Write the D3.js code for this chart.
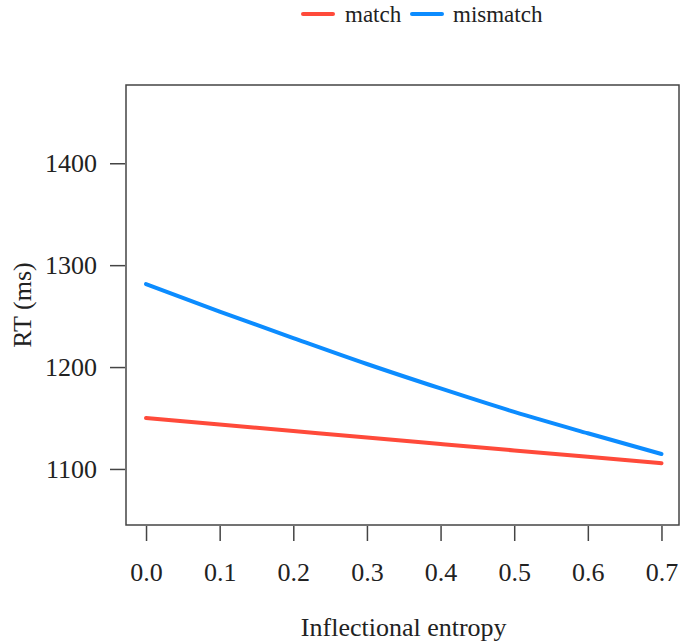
<!DOCTYPE html>
<html>
<head>
<meta charset="utf-8">
<script src="https://cdn.jsdelivr.net/npm/d3@7"></script>
<style>
  html, body { margin: 0; padding: 0; background: #fff; }
  svg { display: block; }
  text { font-family: "Liberation Serif", "Times New Roman", serif; fill: #222; }
</style>
</head>
<body>
<svg id="chart" width="681" height="643"></svg>
<script>
// Predicted RT by inflectional entropy, per condition
const entropy = [0.0, 0.1, 0.2, 0.3, 0.4, 0.5, 0.6, 0.7];
const matchRT = [1150, 1143.6, 1137.2, 1130.8, 1124.5, 1118.2, 1111.9, 1105.6];
const mismatchRT = [1281.5, 1254.5, 1228.5, 1203, 1179, 1156, 1135, 1114.7];
const seriesNames = ["match", "mismatch"];
const seriesColors = ["#ff4a3a", "#0c8cff"];
const xTicks = [0.0, 0.1, 0.2, 0.3, 0.4, 0.5, 0.6, 0.7];
const yTicks = [1100, 1200, 1300, 1400];

const svg = d3.select("#chart");
const box = { left: 126, right: 679, top: 85, bottom: 525 };

const x = d3.scaleLinear().domain([-0.0272, 0.7238]).range([box.left, box.right]);
const y = d3.scaleLinear().domain([1045, 1476.8]).range([box.bottom, box.top]);

// Plot frame
svg.append("rect")
  .attr("x", box.left).attr("y", box.top)
  .attr("width", box.right - box.left).attr("height", box.bottom - box.top)
  .attr("fill", "none").attr("stroke", "#444").attr("stroke-width", 1.5);

// Axes
const xAxis = d3.axisBottom(x).tickValues(xTicks).tickFormat(d3.format(".1f"))
  .tickSize(15).tickPadding(22);
const gx = svg.append("g").attr("transform", `translate(0,${box.bottom + 1})`).call(xAxis);
gx.select(".domain").remove();
gx.selectAll(".tick line").attr("stroke", "#444").attr("stroke-width", 1.5);
gx.selectAll(".tick text").attr("font-size", 26).attr("fill", "#222")
  .style("font-family", "'Liberation Serif', serif");

const yAxis = d3.axisLeft(y).tickValues(yTicks).tickFormat(d3.format("d"))
  .tickSize(15).tickPadding(13);
const gy = svg.append("g").attr("transform", `translate(${box.left - 1},0)`).call(yAxis);
gy.select(".domain").remove();
gy.selectAll(".tick line").attr("stroke", "#444").attr("stroke-width", 1.5);
gy.selectAll(".tick text").attr("font-size", 26).attr("fill", "#222")
  .style("font-family", "'Liberation Serif', serif");

// Axis titles
svg.append("text")
  .attr("x", (x(0) + x(0.7)) / 2).attr("y", 636)
  .attr("text-anchor", "middle").attr("font-size", 26)
  .text("Inflectional entropy");

svg.append("text")
  .attr("transform", "translate(31,305) rotate(-90)")
  .attr("text-anchor", "middle").attr("font-size", 26)
  .text("RT (ms)");

// Lines
const line = d3.line()
  .x((d, i) => x(entropy[i]))
  .y(d => y(d))
  .curve(d3.curveMonotoneX);
[matchRT, mismatchRT].forEach((vals, k) => {
  svg.append("path")
    .datum(vals)
    .attr("d", line)
    .attr("fill", "none")
    .attr("stroke", seriesColors[k])
    .attr("stroke-width", 4)
    .attr("stroke-linecap", "round");
});

// Legend
const legendItems = [
  { name: seriesNames[0], color: seriesColors[0], x0: 303, tx: 345 },
  { name: seriesNames[1], color: seriesColors[1], x0: 412, tx: 453 }
];
const lg = svg.append("g");
legendItems.forEach(it => {
  lg.append("line")
    .attr("x1", it.x0).attr("x2", it.x0 + 30)
    .attr("y1", 14).attr("y2", 14)
    .attr("stroke", it.color).attr("stroke-width", 4).attr("stroke-linecap", "round");
  lg.append("text")
    .attr("x", it.tx).attr("y", 22)
    .attr("font-size", 23)
    .text(it.name);
});
</script>
</body>
</html>
